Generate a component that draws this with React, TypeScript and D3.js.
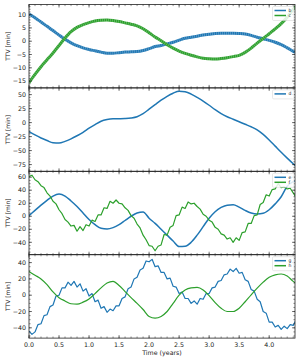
import React from 'react';
import * as d3 from 'd3';

// time grids (years)
const tCoarse = d3.range(46).map(i => i * 0.1);
const tFine = d3.range(90).map(i => i * 0.05);

// panel 1
const bVals = [10.2, 8.8, 7.2, 5.6, 4.0, 2.3, 0.7, -0.6, -1.7, -2.5, -3.1, -3.6, -4.1, -4.5, -4.5, -4.3, -4.1, -4.0, -3.9, -3.5, -2.8, -2.0, -1.6, -1.0, -0.4, 0.4, 1.1, 1.5, 1.9, 2.3, 2.6, 2.9, 3.0, 3.0, 3.0, 2.9, 2.7, 2.2, 1.5, 0.9, 0.3, -0.4, -1.3, -2.5, -3.8, -4.8];
const cVals = [-15.6, -12.5, -9.6, -7.0, -4.4, -1.6, 1.2, 3.6, 5.2, 6.2, 7.0, 7.6, 7.9, 8.0, 7.8, 7.4, 6.9, 6.4, 5.8, 4.7, 3.2, 1.6, 0.2, -1.3, -2.6, -3.7, -4.6, -5.3, -5.9, -6.4, -6.6, -6.7, -6.5, -6.2, -5.8, -5.3, -4.2, -2.6, -0.7, 1.0, 2.8, 4.6, 6.6, 9.0, 12.0, 14.5];
// panel 2
const dVals = [-16, -22, -27.5, -32, -36, -36.5, -33.5, -29, -23.5, -17.5, -10, -3.5, 2.5, 5.5, 6.8, 7.0, 7.3, 8.2, 10.5, 16, 24, 32, 40, 47, 52.5, 56, 55, 51, 45, 38.5, 31, 23, 16, 10.5, 6, 1.5, -3, -7.5, -13, -21, -31, -42, -53, -63.5, -73.5, -83];
// panel 3
const eVals = [1, 9, 17, 24.5, 31, 34, 31, 23.5, 15, 5, -5, -13, -18.5, -19.5, -17.5, -13, -6.5, 0, 5, 6.5, -3, -11, -20, -29, -38, -46.5, -46, -40, -29, -16, -3, 7, 13.5, 17, 17.5, 14, 9, 5, 3.5, 4.5, 10, 19, 30, 46, 53, 56];
const fVals = [61, 63, 56, 53, 47, 44, 36, 31, 23, 19, 10, 4, -5, -9, -15, -14, -23, -16, -22, -13, -15, -6, -8, 2, 2, 13, 12, 23, 20, 25, 20, 19, 13, 9, 1, -3, -12, -18, -29, -36, -45, -46, -53, -46, -44, -28, -29, -17, -14, 1, 2, 14, 12, 22, 19, 20, 15, 11, 3, 0, -6, -9, -17, -20, -27, -29, -35, -33, -40, -33, -37, -25, -24, -11, -11, 1, 2, 18, 21, 33, 31, 41, 42, 50, 44, 45, 42, 43, 36, 29];
// panel 4
const gVals = [-44, -48, -45, -36, -35, -25, -24, -14, -12, -1, 0, 9, 9, 16, 12, 17, 10, 14, 5, 8, -1, 2, -8, -6, -16, -14, -21, -17, -19, -13, -13, -4, -2, 8, 10, 20, 22, 31, 33, 42, 41, 44, 35, 36, 28, 28, 20, 21, 11, 10, 2, 4, -4, -4, -10, -7, -11, -4, -5, 2, 2, 9, 10, 17, 18, 25, 26, 32, 29, 33, 27, 28, 19, 17, 7, 5, -5, -8, -20, -22, -33, -33, -39, -37, -42, -38, -41, -36, -37, -30];
const hVals = [29, 24.5, 20, 13, 4, -3, -7, -10.5, -11, -8.5, -4.5, 2, 9, 15, 17, 12, 4.5, -3, -10, -17.5, -26, -28, -26, -20, -10, 0, 6.5, 9, 9.5, 6.5, -0.5, -9, -16, -20, -20, -16, -8, 0.5, 8.6, 16, 22, 25, 26, 23.5, 17, 12];

const xTicks = [0, 0.5, 1, 1.5, 2, 2.5, 3, 3.5, 4];
const blue = '#1f77b4';
const green = '#2ca02c';

type Series = { name: string; t: number[]; v: number[]; color: string; width: number; textured?: boolean };
type Panel = { domain: [number, number]; ticks: number[]; minor: number; series: Series[] };

const panels: Panel[] = [
  {
    domain: [-17.55, 13.8], ticks: [-15, -10, -5, 0, 5, 10], minor: 1,
    series: [
      { name: 'b', t: tCoarse, v: bVals, color: blue, width: 3, textured: true },
      { name: 'c', t: tCoarse, v: cVals, color: green, width: 3, textured: true },
    ],
  },
  {
    domain: [-87, 62], ticks: [-75, -50, -25, 0, 25, 50], minor: 5,
    series: [{ name: 'd', t: tCoarse, v: dVals, color: blue, width: 1.5 }],
  },
  {
    domain: [-59, 69], ticks: [-40, -20, 0, 20, 40, 60], minor: 5,
    series: [
      { name: 'e', t: tCoarse, v: eVals, color: blue, width: 1.5 },
      { name: 'f', t: tFine, v: fVals, color: green, width: 1.2 },
    ],
  },
  {
    domain: [-52.6, 49.7], ticks: [-40, -20, 0, 20, 40], minor: 5,
    series: [
      { name: 'g', t: tFine, v: gVals, color: blue, width: 1.2 },
      { name: 'h', t: tCoarse, v: hVals, color: green, width: 1.2 },
    ],
  },
];

const left = 29;
const right = 295;
const top0 = 4.5;
const panelH = 83.4;
const font = 'DejaVu Sans';
const fmt = (v: number) => (v < 0 ? '\u2212' + Math.abs(v) : String(v));

export default function App() {
  const x = d3.scaleLinear().domain([0, 4.43]).range([left, right]);
  const xMinor = d3.range(0, 45).map(i => i * 0.1);

  return (
    <svg width={300} height={360} style={{ position: 'absolute', left: 0, top: 0, background: '#fff' }} fontFamily={font}>
      {panels.map((p, pi) => {
        const y0 = top0 + pi * panelH;
        const y1 = y0 + panelH;
        const y = d3.scaleLinear().domain(p.domain).range([y1, y0]);
        const yMinor = d3.range(Math.ceil(p.domain[0] / p.minor), Math.floor(p.domain[1] / p.minor) + 1).map(k => k * p.minor);
        const clipId = `clip${pi}`;
        return (
          <g key={pi}>
            <defs>
              <clipPath id={clipId}>
                <rect x={left} y={y0} width={right - left} height={panelH} />
              </clipPath>
            </defs>
            <g clipPath={`url(#${clipId})`}>
              {p.series.map(s => {
                const line = d3.line<number>()
                  .x((_, i) => x(s.t[i]))
                  .y(d => y(d))
                  .curve(s.t === tFine ? d3.curveLinear : d3.curveMonotoneX);
                const dPath = line(s.v) || '';
                return (
                  <g key={s.name}>
                    <path d={dPath} fill="none" stroke={s.color} strokeWidth={s.width} strokeLinejoin="round" />
                    {s.textured && (
                      <path d={dPath} fill="none" stroke="#fff" strokeOpacity={0.3} strokeWidth={s.width} strokeDasharray="0.7 1.3" />
                    )}
                  </g>
                );
              })}
            </g>
            {/* frame */}
            <rect x={left} y={y0} width={right - left} height={panelH} fill="none" stroke="#222" strokeWidth={0.8} />
            {/* x ticks, top and bottom, inward */}
            {xMinor.map(t => (
              <g key={'xm' + t} stroke="#222" strokeWidth={0.5}>
                <line x1={x(t)} x2={x(t)} y1={y1} y2={y1 - 1.6} />
                <line x1={x(t)} x2={x(t)} y1={y0} y2={y0 + 1.6} />
              </g>
            ))}
            {xTicks.map(t => (
              <g key={'xt' + t} stroke="#222" strokeWidth={0.6}>
                <line x1={x(t)} x2={x(t)} y1={y1} y2={y1 - 3} />
                <line x1={x(t)} x2={x(t)} y1={y0} y2={y0 + 3} />
              </g>
            ))}
            {/* y ticks */}
            {yMinor.map(v => (
              <g key={'ym' + v} stroke="#222" strokeWidth={0.5}>
                <line x1={left} x2={left + 1.6} y1={y(v)} y2={y(v)} />
                <line x1={right} x2={right - 1.6} y1={y(v)} y2={y(v)} />
              </g>
            ))}
            {p.ticks.map(v => (
              <g key={'yt' + v}>
                <line x1={left} x2={left + 3} y1={y(v)} y2={y(v)} stroke="#222" strokeWidth={0.6} />
                <line x1={right} x2={right - 3} y1={y(v)} y2={y(v)} stroke="#222" strokeWidth={0.6} />
                <text x={left - 3} y={y(v)} dy="0.35em" textAnchor="end" fontSize={6.3} fill="#222">{fmt(v)}</text>
              </g>
            ))}
            <text transform={`translate(8,${(y0 + y1) / 2}) rotate(-90)`} textAnchor="middle" dy="0.35em" fontSize={6} fill="#222">TTV [min]</text>
            {/* legend */}
            <g>
              <rect x={272.5} y={y0 + 2} width={21.5} height={4 + p.series.length * 5} rx={1.2} fill="#fff" fillOpacity={0.85} stroke="#d0d0d0" strokeWidth={0.5} />
              {p.series.map((s, si) => {
                const ly = y0 + 6 + si * 5;
                return (
                  <g key={'lg' + s.name}>
                    <line x1={274.5} x2={286} y1={ly} y2={ly} stroke={s.color} strokeWidth={1.5} />
                    <text x={288.5} y={ly} dy="0.35em" fontSize={4.5} fill="#222">{s.name}</text>
                  </g>
                );
              })}
            </g>
          </g>
        );
      })}
      {xTicks.map(t => (
        <text key={'xl' + t} x={x(t)} y={top0 + 4 * panelH + 8.5} textAnchor="middle" fontSize={6.3} fill="#222">{t.toFixed(1)}</text>
      ))}
      <text x={(left + right) / 2} y={top0 + 4 * panelH + 16.5} textAnchor="middle" fontSize={6.3} fill="#222">Time (years)</text>
    </svg>
  );
}
